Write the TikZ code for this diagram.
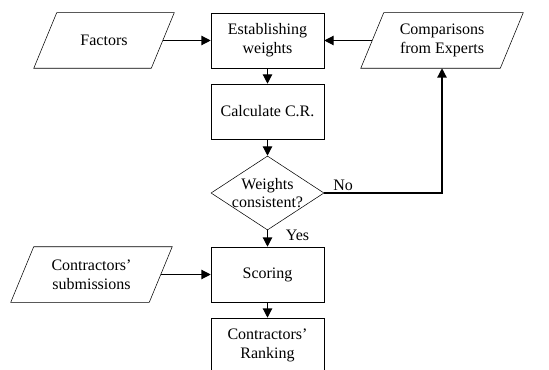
\documentclass[tikz,border=0pt]{standalone}
\usepackage{fontspec}
\setmainfont{Liberation Serif}
\usetikzlibrary{shapes.geometric,arrows.meta}

\newcommand{\slantoff}{8.6pt}

\begin{document}
\begin{tikzpicture}[x=0.75pt,y=-0.75pt,
    every node/.style ={font=\fontsize{12}{14}\selectfont, align=center},
    process/.style ={rectangle, draw, thin, minimum width=84.75pt, minimum height=41.25pt},
    inputdata/.style ={rectangle, minimum height=41.25pt},
    decision/.style ={diamond, draw, thin, minimum width=84.75pt, minimum height=55.5pt, inner sep=0pt},
    flowline/.style ={draw, line width=0.9pt, -{Triangle[length=7pt,width=7pt]}}]
   \clip (0,0) rectangle (549,370);

   \node[inputdata, minimum width=87.75pt] (factors) at (104,40.5) {Factors};
   \node[process] (est)  at (267.5,40.5)  {Establishing\\weights};
   \node[inputdata, minimum width=104.25pt] (comp) at (442,40.5) {Comparisons\\from Experts};
   \node[process] (calc) at (267.5,111.5) {Calculate C.R.};
   \node[decision, label=center:{Weights\\consistent?}] (check) at (267.5,193) {};
   \node[inputdata, minimum width=103.5pt] (subm) at (91.5,274.5) {Contractors'\\submissions};
   \node[process] (scoring) at (267.5,274.5) {Scoring};
   \node[process] (rank) at (267.5,345.5) {Contractors'\\Ranking};

   % parallelograms for the inputs
   \foreach \n in {factors,comp,subm}
     \draw[thin] ([xshift=\slantoff]\n.north west) -- ([xshift=\slantoff]\n.north east)
       -- ([xshift=-\slantoff]\n.south east) -- ([xshift=-\slantoff]\n.south west) -- cycle;

   \draw[flowline] (factors) to (est);
   \draw[flowline] (comp) to (est);
   \draw[flowline] (est) to (calc);
   \draw[flowline] (calc) to (check);
   \draw[flowline] (check.east) -| node[pos=0.03, above right, inner sep=1pt] (no) {No} (comp);
   \draw[flowline] (check) to node[right, pos=0.3, xshift=10pt] (yes) {Yes} (scoring);
   \draw[flowline] (subm) to (scoring);
   \draw[flowline] (scoring) to (rank);
 \end{tikzpicture}
\end{document}
